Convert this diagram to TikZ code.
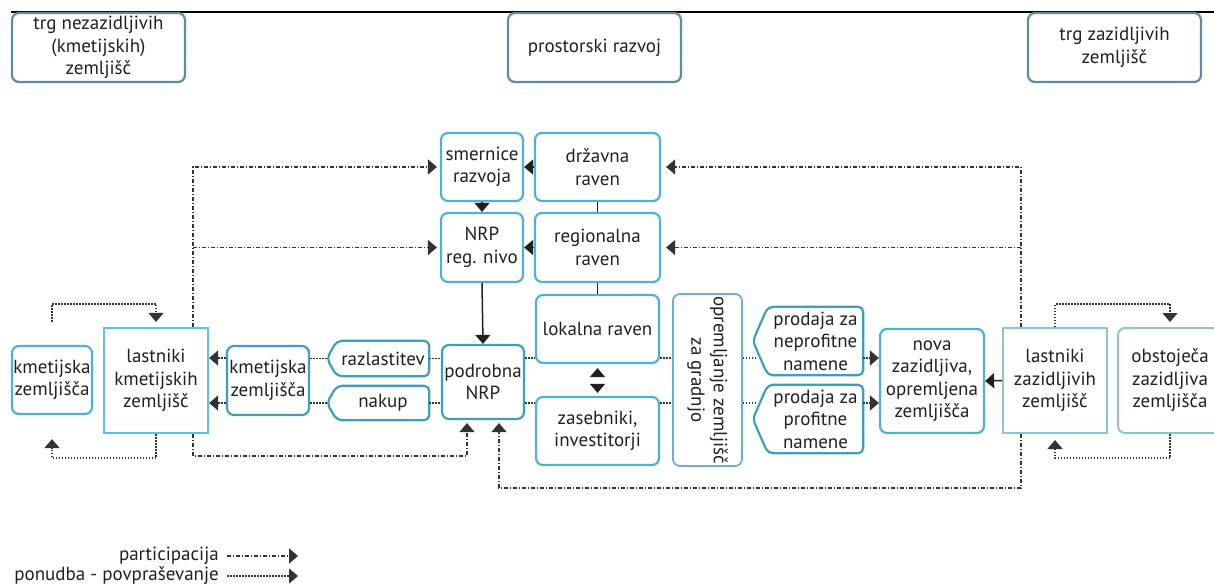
\documentclass[tikz,border=0pt]{standalone}
\usepackage{fontspec}
\setmainfont{PT Sans}
\usetikzlibrary{arrows.meta}
\definecolor{ink}{HTML}{231F20}
\definecolor{topc}{HTML}{5E8E9A}
\definecolor{cyanc}{HTML}{4DB3D1}
\definecolor{brightc}{HTML}{5BC3E6}
\definecolor{tealc}{HTML}{3D9FBA}
\definecolor{oprc}{HTML}{6AB2C5}
\definecolor{palec}{HTML}{8FC3CC}
\definecolor{lnc}{HTML}{333333}
\newcommand\lbl{\fontsize{19}{22.5}\selectfont}
\begin{document}
\begin{tikzpicture}[x=1pt,y=-1pt,
  box/.style={draw=cyanc, line width=2.2pt, rounded corners=7pt, align=center,
    inner sep=0pt, text=ink, font=\lbl},
  topbox/.style={box, draw=topc, minimum width=173pt, minimum height=69pt},
  sqbox/.style={box, sharp corners},
  tagtext/.style={inner sep=0pt, align=center, text=ink, font=\lbl},
  tagline/.style={draw=tealc, line width=2.2pt, rounded corners=5pt},
  tip/.style={-{Triangle[length=9pt,width=15pt]}},
  solidl/.style={draw=ink, line width=1.5pt},
  dd/.style={draw=lnc, line width=1.6pt, dash pattern=on 4pt off 2pt on 1pt off 2pt},
  dt/.style={draw=lnc, line width=1.5pt, dash pattern=on 1.5pt off 1.5pt}]
\clip (0,0) rectangle (1214,587);
% top rule
\draw[black, line width=1.2pt] (11,12) -- (1214,12);

% headers
\node[topbox] (trgN) at (98.5,47.5) {trg nezazidljivih\\(kmetijskih)\\zemljišč};
\node[topbox] (pros) at (594.5,47.5) {prostorski razvoj};
\node[topbox] (trgZ) at (1114.5,47.5) {trg zazidljivih\\zemljišč};

% planning levels
\node[box, minimum width=82pt, minimum height=68pt] (smer) at (482,167) {smernice\\razvoja};
\node[box, minimum width=125pt, minimum height=68pt] (drz) at (597.5,167) {državna\\raven};
\node[box, minimum width=82pt, minimum height=69pt] (nrpr) at (482,247.5) {NRP\\reg. nivo};
\node[box, minimum width=125pt, minimum height=69pt] (reg) at (597.5,247.5) {regionalna\\raven};
\node[box, minimum width=123pt, minimum height=68pt] (lok) at (597.5,329) {lokalna raven};
\node[box, minimum width=123pt, minimum height=68pt] (zas) at (597.5,431) {zasebniki,\\investitorji};
\node[box, draw=tealc, minimum width=82pt, minimum height=74pt] (podr) at (483,382) {podrobna\\NRP};
\node[box, draw=oprc, line width=1.8pt, minimum width=69pt, minimum height=172pt] (opr) at (707.5,380) {};
\node[rotate=-90, align=center, text=ink, font=\lbl, inner sep=0pt] (oprt) at (opr.center) {opremljanje zemljišč\\za gradnjo};

% tag-shaped nodes
\node[tagtext, minimum width=92pt, minimum height=35pt] (razl) at (383,358.5) {razlastitev};
\node[tagtext, minimum width=92pt, minimum height=34pt] (nak) at (383,403) {nakup};
\node[tagtext, minimum width=95pt, minimum height=68pt] (prod1) at (815.5,341) {prodaja za\\neprofitne\\namene};
\node[tagtext, minimum width=95pt, minimum height=68pt] (prod2) at (815.5,419) {prodaja za\\profitne\\namene};
\coordinate (razltip) at ([xshift=-10pt]razl.west);
\coordinate (naktip) at ([xshift=-10pt]nak.west);
\coordinate (p1tip) at ([xshift=-15pt]prod1.west);
\coordinate (p2tip) at ([xshift=-15pt]prod2.west);
\draw[tagline] (razl.north west) -- (razl.north east) -- (razl.south east) -- (razl.south west) -- (razltip) -- cycle;
\draw[tagline] (nak.north west) -- (nak.north east) -- (nak.south east) -- (nak.south west) -- (naktip) -- cycle;
\draw[tagline] (prod1.north west) -- (prod1.north east) -- (prod1.south east) -- (prod1.south west) -- (p1tip) -- cycle;
\draw[tagline] (prod2.north west) -- (prod2.north east) -- (prod2.south east) -- (prod2.south west) -- (p2tip) -- cycle;

% land and owners
\node[box, minimum width=104pt, minimum height=104pt] (nova) at (932,381) {nova\\zazidljiva,\\opremljena\\zemljišča};
\node[sqbox, draw=palec, line width=2pt, minimum width=104pt, minimum height=105pt] (lastZ) at (1055,380.5) {lastniki\\zazidljivih\\zemljišč};
\node[box, draw=palec, line width=2pt, minimum width=104pt, minimum height=105pt] (obst) at (1170,380.5) {obstoječa\\zazidljiva\\zemljišča};
\node[box, minimum width=80pt, minimum height=68pt] (kmet1) at (52,380) {kmetijska\\zemljišča};
\node[sqbox, draw=brightc, minimum width=104pt, minimum height=105pt] (lastK) at (156,380.5) {lastniki\\kmetijskih\\zemljišč};
\node[box, draw=tealc, minimum width=82pt, minimum height=69pt] (kmet2) at (268,380.5) {kmetijska\\zemljišča};

% helper rows and columns
\coordinate (rowA) at (0,358);
\coordinate (rowB) at (0,403);
\coordinate (colL) at (193,0);
\coordinate (colR) at (1021,0);
\coordinate (pin1) at ([xshift=-16pt,yshift=-3pt]podr.south);
\coordinate (pin2) at ([xshift=16pt,yshift=-3pt]podr.south);
\coordinate (p1end) at ([xshift=-12pt]prod1.west);
\coordinate (p2end) at ([xshift=-12pt]prod2.west);

% hierarchy
\draw[solidl] (drz.south) -- (reg.north);
\draw[solidl] (reg.south) -- (lok.north);
\draw[solidl, tip] (nrpr.south) -- (podr.north);
\draw[solidl, tip] (smer.south) -- (nrpr.north);
\draw[solidl, tip] (drz.west) -- (smer.east);
\draw[solidl, tip] (reg.west) -- (nrpr.east);
\draw[white, line width=1.5pt, {Triangle[length=9pt,width=15pt,color=ink]}-{Triangle[length=9pt,width=15pt,color=ink]}]
  ([yshift=-4pt]lok.south) -- ([yshift=3pt]zas.north);

% supply and demand
\draw[dt] (podr.east |- rowA) -- (lok.west |- rowA);
\draw[dt] (podr.east |- rowB) -- (zas.west |- rowB);
\draw[dt] (lok.east |- rowA) -- (opr.west |- rowA);
\draw[dt] (zas.east |- rowB) -- (opr.west |- rowB);
\draw[dt] (opr.east |- rowA) -- (p1end |- rowA);
\draw[dt] (opr.east |- rowB) -- (p2end |- rowB);
\draw[dt, tip] (prod1.east |- rowA) -- (nova.west |- rowA);
\draw[dt, tip] (prod2.east |- rowB) -- (nova.west |- rowB);
\draw[dt] (razl.east) -- (podr.west |- razl);
\draw[dt] (nak.east) -- (podr.west |- nak);
\draw[dt] (razltip) -- (kmet2.east |- razl);
\draw[dt] (naktip) -- (kmet2.east |- nak);
\draw[dt, tip] (kmet2.west |- rowA) -- (lastK.east |- rowA);
\draw[dt, tip] (kmet2.west |- rowB) -- (lastK.east |- rowB);
\draw[solidl, tip] (lastZ.west) -- (nova.east);

\draw[dt, tip] ([yshift=23pt]kmet1.north) -- ++(0,-18) -| ([yshift=5pt]lastK.north);
\draw[dt, tip] (lastK.south) -- ++(0,24) -| ([yshift=-24pt]kmet1.south);
\draw[dt, tip] (lastZ.north) -- ++(0,-23) -| ([yshift=5pt]obst.north);
\draw[dt, tip] (obst.south) -- ++(0,24) -| ([yshift=-6pt]lastZ.south);

% participation
\draw[dd, tip] (lastK.north -| colL) |- ([xshift=-3pt]smer.west);
\draw[dd, tip] (colL |- nrpr) -- ([xshift=-3pt]nrpr.west);
\draw[dd, tip] (lastK.south -| colL) -- ++(0,22) -| (pin1);
\draw[dd, tip] (lastZ.north -| colR) |- ([xshift=5pt]drz.east);
\draw[dd, tip] (colR |- reg) -- ([xshift=5pt]reg.east);
\draw[dd, tip] (lastZ.south -| colR) -- ++(0,54) -| (pin2);

% legend
\node[anchor=east, inner sep=0pt, font=\lbl, text=ink] (legP) at (219,556) {participacija};
\node[anchor=east, inner sep=0pt, font=\lbl, text=ink] (legS) at (219,576) {ponudba - povpraševanje};
\draw[dd, tip] ([xshift=8pt]legP.east) -- ++(71,0);
\draw[dt, tip] ([xshift=8pt]legS.east) -- ++(71,0);
\end{tikzpicture}
\end{document}
